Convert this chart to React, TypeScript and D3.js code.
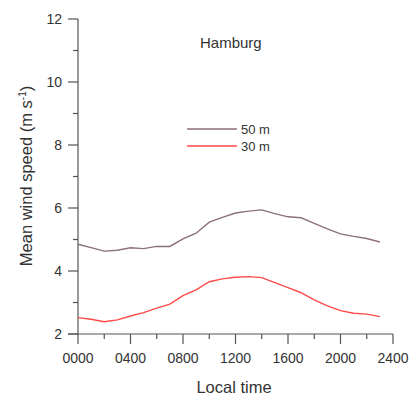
import React from "react";
import * as d3 from "d3";

const hours = [0,1,2,3,4,5,6,7,8,9,10,11,12,13,14,15,16,17,18,19,20,21,22,23];
const speed50 = [4.85,4.74,4.63,4.66,4.74,4.71,4.78,4.78,5.02,5.2,5.55,5.7,5.84,5.9,5.94,5.82,5.72,5.69,5.51,5.34,5.18,5.1,5.03,4.92];
const speed30 = [2.52,2.47,2.39,2.45,2.57,2.68,2.82,2.95,3.22,3.4,3.66,3.75,3.8,3.82,3.79,3.63,3.47,3.31,3.08,2.89,2.74,2.66,2.63,2.55];
const xTickLabels = ["0000","0400","0800","1200","1600","2000","2400"];
const yTicks = [2,4,6,8,10,12];
const seriesNames = ["50 m","30 m"];
const seriesColors = ["#8c7274","#ff4a4a"];

export default function App() {
  const W = 412, H = 396;
  const x = d3.scaleLinear().domain([0, 24]).range([78, 393]);
  const y = d3.scaleLinear().domain([2, 12]).range([334, 19]);
  const line = d3.line<number>().x((_, i) => x(hours[i])).y(d => y(d));
  const font = "Liberation Sans, Arial, sans-serif";
  const axisColor = "#555";
  const textColor = "#333";
  const xMinor = d3.range(0, 24.01, 2);
  const yMinor = d3.range(3, 12, 2);
  return (
    <svg width={W} height={H} style={{ position: "absolute", left: 0, top: 0 }} fontFamily={font}>
      <rect width={W} height={H} fill="#fff" />
      {/* axes */}
      <line x1={x(0)} x2={x(0)} y1={y(12)} y2={y(2)} stroke={axisColor} strokeWidth={1.2} />
      <line x1={x(0) - 10} x2={x(24)} y1={y(2)} y2={y(2)} stroke={axisColor} strokeWidth={1.2} />
      {yTicks.map(t => (
        <g key={"y" + t}>
          <line x1={x(0) - 10} x2={x(0)} y1={y(t)} y2={y(t)} stroke={axisColor} strokeWidth={1.2} />
          <text x={x(0) - 16} y={y(t)} dy="0.36em" textAnchor="end" fontSize={14} fill={textColor}>{t}</text>
        </g>
      ))}
      {yMinor.map(t => (
        <line key={"ym" + t} x1={x(0) - 5} x2={x(0)} y1={y(t)} y2={y(t)} stroke={axisColor} strokeWidth={1.2} />
      ))}
      {xMinor.map((h, i) => (
        <line key={"xm" + h} x1={x(h)} x2={x(h)} y1={y(2)} y2={y(2) + (i % 2 === 0 ? 10 : 5)} stroke={axisColor} strokeWidth={1.2} />
      ))}
      {xTickLabels.map((lab, i) => (
        <text key={lab} x={x(i * 4)} y={363} textAnchor="middle" fontSize={14} fill={textColor}>{lab}</text>
      ))}
      <text x={234} y={393} textAnchor="middle" fontSize={16.5} fill={textColor}>Local time</text>
      <text transform={`translate(32,176) rotate(-90)`} textAnchor="middle" fontSize={16.5} fill={textColor}>
        Mean wind speed (m s<tspan dy="-6" fontSize={10}>-1</tspan><tspan dy="6">)</tspan>
      </text>
      {/* lines */}
      <path d={line(speed50) || ""} fill="none" stroke={seriesColors[0]} strokeWidth={1.4} />
      <path d={line(speed30) || ""} fill="none" stroke={seriesColors[1]} strokeWidth={1.4} />
      {/* title & legend */}
      <text x={200} y={48} fontSize={15} fill={textColor}>Hamburg</text>
      {seriesNames.map((n, i) => (
        <g key={n}>
          <line x1={187} x2={237} y1={129 + i * 17} y2={129 + i * 17} stroke={seriesColors[i]} strokeWidth={1.4} />
          <text x={241} y={129 + i * 17} dy="0.36em" fontSize={13} fill={textColor}>{n}</text>
        </g>
      ))}
    </svg>
  );
}
